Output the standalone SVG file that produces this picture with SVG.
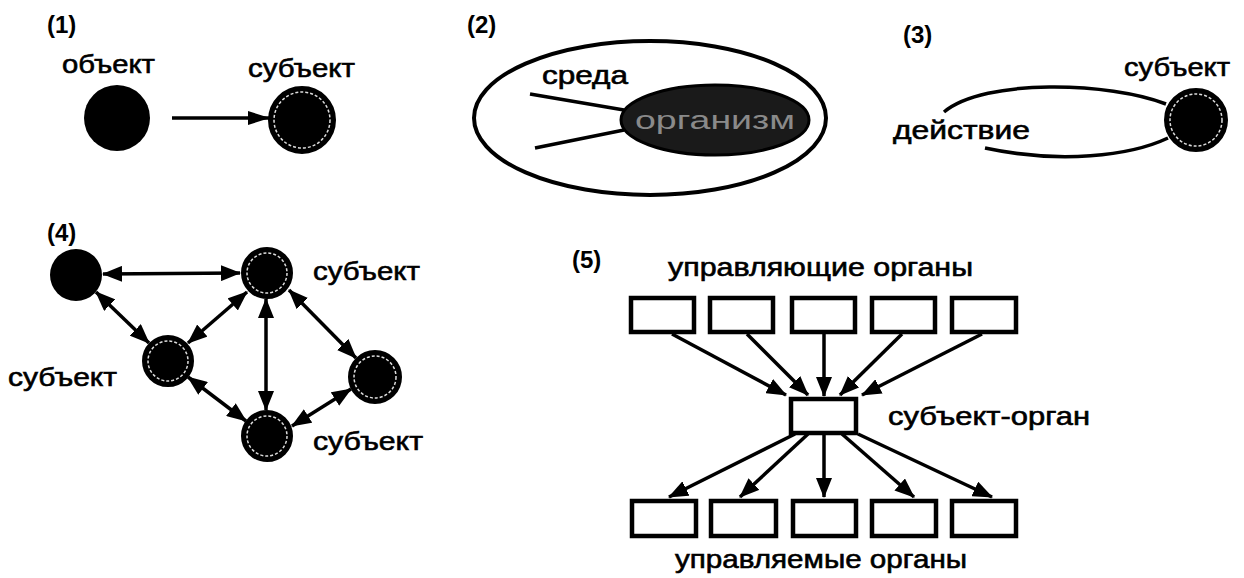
<svg xmlns="http://www.w3.org/2000/svg" width="1244" height="578" viewBox="0 0 1244 578">
<style>
text{font-family:"Liberation Sans",Arial,sans-serif;font-size:26px;fill:#000;stroke:#000;stroke-width:0.6}
.num{font-weight:bold;font-size:24px;stroke-width:0}
.obj{fill:#000}
.subj{fill:#000;stroke:#000;stroke-width:2}
.ring{fill:none;stroke:#ddd;stroke-width:1.5;stroke-dasharray:3 2}
.ln{stroke:#000;stroke-width:3.5;fill:none}
.box{fill:#fff;stroke:#000;stroke-width:4.5}
</style>
<defs>
<marker id="ah" viewBox="0 0 22 14" refX="21" refY="7" markerWidth="22" markerHeight="14" markerUnits="userSpaceOnUse" orient="auto-start-reverse">
<path d="M0,0 L22,7 L0,14 Z" fill="#000"/>
</marker>
<marker id="ah2" viewBox="0 0 20 16" refX="19" refY="8" markerWidth="20" markerHeight="16" markerUnits="userSpaceOnUse" orient="auto-start-reverse">
<path d="M0,0 L20,8 L0,16 Z" fill="#000"/>
</marker>
</defs>

<g id="panel1">
<text class="num" x="47" y="33">(1)</text>
<g id="p1-object"><text x="62" y="73" textLength="93" lengthAdjust="spacingAndGlyphs">объект</text><circle class="obj" cx="117" cy="118" r="33"/></g>
<g id="p1-subject"><text x="248" y="77" textLength="107" lengthAdjust="spacingAndGlyphs">субъект</text><circle class="subj" cx="302" cy="120" r="33"/><circle class="ring" cx="302" cy="120" r="28"/></g>
</g>

<g id="panel2">
<text class="num" x="467" y="33">(2)</text>
<g id="p2-env"><ellipse cx="650" cy="118" rx="176" ry="77" fill="none" stroke="#000" stroke-width="4"/><text x="542" y="84" textLength="86" lengthAdjust="spacingAndGlyphs">среда</text></g>
<g id="p2-org"><ellipse cx="715" cy="120" rx="94" ry="35" fill="#1a1a1a" stroke="#000" stroke-width="3"/><text x="715" y="129" text-anchor="middle" style="fill:#8a8a8a;stroke:none;font-size:26px" textLength="160" lengthAdjust="spacingAndGlyphs">организм</text></g>
</g>

<g id="panel3">
<text class="num" x="903" y="43">(3)</text>
<g id="p3-subject"><text x="1124" y="76" textLength="106" lengthAdjust="spacingAndGlyphs">субъект</text><circle class="subj" cx="1196" cy="120" r="31"/><circle class="ring" cx="1196" cy="120" r="26"/></g>
<text x="893" y="139" textLength="137" lengthAdjust="spacingAndGlyphs">действие</text>
</g>

<g id="panel4">
<text class="num" x="47" y="241">(4)</text>
<g id="n4a"><circle class="obj" cx="76" cy="275" r="26"/></g>
<g id="n4b"><circle class="subj" cx="267" cy="273" r="25"/><circle class="ring" cx="267" cy="273" r="20"/><text x="313" y="280" textLength="107" lengthAdjust="spacingAndGlyphs">субъект</text></g>
<g id="n4c"><circle class="subj" cx="168" cy="361" r="25"/><circle class="ring" cx="168" cy="361" r="20"/><text x="8" y="386" textLength="109" lengthAdjust="spacingAndGlyphs">субъект</text></g>
<g id="n4d"><circle class="subj" cx="267" cy="436" r="25"/><circle class="ring" cx="267" cy="436" r="20"/><text x="313" y="450" textLength="110" lengthAdjust="spacingAndGlyphs">субъект</text></g>
<g id="n4e"><circle class="subj" cx="375" cy="377" r="26"/><circle class="ring" cx="375" cy="377" r="21"/></g>
</g>

<g id="panel5">
<text class="num" x="572" y="268">(5)</text>
<text x="668" y="276" textLength="305" lengthAdjust="spacingAndGlyphs">управляющие органы</text>
<g id="t1"><rect class="box" x="631" y="298" width="63" height="34"/></g>
<g id="t2"><rect class="box" x="710" y="298" width="63" height="34"/></g>
<g id="t3"><rect class="box" x="792" y="298" width="63" height="34"/></g>
<g id="t4"><rect class="box" x="872" y="298" width="63" height="34"/></g>
<g id="t5"><rect class="box" x="952" y="298" width="64" height="34"/></g>
<g id="center"><rect class="box" x="791" y="399" width="65" height="34"/><text x="888" y="425" textLength="202" lengthAdjust="spacingAndGlyphs">субъект-орган</text></g>
<g id="b1"><rect class="box" x="632" y="501" width="64" height="35"/></g>
<g id="b2"><rect class="box" x="711" y="501" width="65" height="35"/></g>
<g id="b3"><rect class="box" x="793" y="501" width="63" height="35"/></g>
<g id="b4"><rect class="box" x="872" y="501" width="64" height="35"/></g>
<g id="b5"><rect class="box" x="952" y="501" width="64" height="35"/></g>
<text x="675" y="568" textLength="292" lengthAdjust="spacingAndGlyphs">управляемые органы</text>
</g>

<g id="connectors">
<line class="ln" x1="172" y1="118" x2="269" y2="118" marker-end="url(#ah)"/>
<line class="ln" x1="530" y1="94" x2="624" y2="110"/>
<line class="ln" x1="535" y1="148" x2="624" y2="130"/>
<path class="ln" d="M1166,104 C1110,82 985,78 944,112"/>
<path class="ln" d="M985,148 C1060,164 1130,156 1168,138"/>
<line class="ln" x1="103" y1="274" x2="240" y2="273" marker-start="url(#ah2)" marker-end="url(#ah2)"/>
<line class="ln" x1="96" y1="292" x2="149" y2="343" marker-start="url(#ah2)" marker-end="url(#ah2)"/>
<line class="ln" x1="247" y1="292" x2="188" y2="343" marker-start="url(#ah2)" marker-end="url(#ah2)"/>
<line class="ln" x1="266" y1="299" x2="266" y2="410" marker-start="url(#ah2)" marker-end="url(#ah2)"/>
<line class="ln" x1="289" y1="290" x2="356" y2="358" marker-start="url(#ah2)" marker-end="url(#ah2)"/>
<line class="ln" x1="188" y1="377" x2="246" y2="421" marker-start="url(#ah2)" marker-end="url(#ah2)"/>
<line class="ln" x1="292" y1="426" x2="351" y2="389" marker-start="url(#ah2)" marker-end="url(#ah2)"/>
<line class="ln" x1="672" y1="334" x2="786" y2="395" marker-end="url(#ah2)"/>
<line class="ln" x1="747" y1="334" x2="808" y2="395" marker-end="url(#ah2)"/>
<line class="ln" x1="824" y1="334" x2="824" y2="396" marker-end="url(#ah2)"/>
<line class="ln" x1="902" y1="334" x2="840" y2="395" marker-end="url(#ah2)"/>
<line class="ln" x1="982" y1="334" x2="862" y2="395" marker-end="url(#ah2)"/>
<line class="ln" x1="795" y1="434" x2="669" y2="497" marker-end="url(#ah2)"/>
<line class="ln" x1="808" y1="434" x2="740" y2="497" marker-end="url(#ah2)"/>
<line class="ln" x1="824" y1="434" x2="824" y2="497" marker-end="url(#ah2)"/>
<line class="ln" x1="842" y1="434" x2="914" y2="497" marker-end="url(#ah2)"/>
<line class="ln" x1="858" y1="434" x2="992" y2="497" marker-end="url(#ah2)"/>
</g>
</svg>
